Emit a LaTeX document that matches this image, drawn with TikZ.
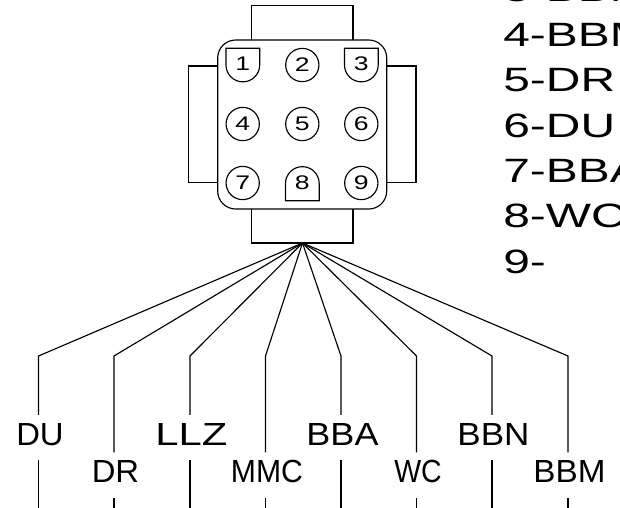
\documentclass[tikz,border=0pt]{standalone}
\usepackage{fontspec}
\setmainfont{Liberation Sans}
\usepackage{graphicx}
\tikzset{
    wire/.style={black, line width=0.65pt},
    pincircle/.style={circle, draw, line width=0.65pt, minimum size=33.4*0.5669pt, inner sep=0pt, font=\fontsize{11.2}{12}\selectfont},
    pintext/.style={inner sep=0pt, font=\fontsize{11.2}{12}\selectfont},
    toplabel/.style={anchor=base, inner sep=0pt, text height=30*0.5669pt, text depth=15*0.5669pt, font=\fontsize{18.2}{20}\selectfont},
    sidetext/.style={anchor=base west, inner sep=0pt, font=\fontsize{19.2}{22}\selectfont}
}
\newcommand{\pinnum}[1]{\scalebox{1.35}[1]{#1}}
\newcommand{\fitlabel}[2]{\hspace{1.7pt}\resizebox{#1}{\height}{#2}}
\newcommand{\sideline}[1]{\scalebox{1.42}[1]{#1}}

\begin{document}
\begin{tikzpicture}[x=0.02cm, y=-0.02cm]
    \useasboundingbox (0,0) rectangle (620,508);
    \clip (0,0) rectangle (620,508);

    % Connector tabs
    \draw[wire] (251.3,40) -- (251.3,5.5) -- (353,5.5) -- (353,40);
    \draw[wire] (217.7,66) -- (188.3,66) -- (188.3,182.7) -- (217.7,182.7);
    \draw[wire] (386.7,66) -- (416,66) -- (416,182.7) -- (386.7,182.7);
    \draw[wire] (251.3,209) -- (251.3,243) -- (353,243) -- (353,209);

    % Connector body
    \draw[wire, rounded corners=18*0.5669pt] (217.7,40) rectangle (386.7,209);

    % Round pins
    \foreach \px/\py/\pinname in {302.3/65/2, 242.7/124/4, 302.3/124/5, 361.3/124/6, 242.7/183/7, 361.3/183/9} {
        \node[pincircle] (pin\pinname) at (\px,\py) {\pinnum{\pinname}};
    }

    % Keyed pins
    \draw[wire] (226,48.3) -- (259.7,48.3) -- (259.7,65) arc[start angle=0, end angle=180, radius=16.85] -- cycle;
    \node[pintext] (pin1) at (242.7,64) {\pinnum{1}};
    \draw[wire] (344.5,48.3) -- (378.2,48.3) -- (378.2,65) arc[start angle=0, end angle=180, radius=16.85] -- cycle;
    \node[pintext] (pin3) at (361.3,64) {\pinnum{3}};
    \draw[wire] (285.5,200.7) -- (319.2,200.7) -- (319.2,183.5) arc[start angle=0, end angle=-180, radius=16.85] -- cycle;
    \node[pintext] (pin8) at (302.3,183) {\pinnum{8}};

    % Wires and their labels
    \coordinate (hub) at (302.5,243);
    \foreach \wx/\wy/\wname/\wwidth in {38.5/445/DU/27pt, 114/482.5/DR/27pt, 190/445/LLZ/41pt, 265.5/482.5/MMC/41pt,
        341/445/BBA/41pt, 416.5/482.5/WC/27pt, 492/445/BBN/41pt, 568/482.5/BBM/41pt} {
        \node[toplabel] (\wname) at (\wx,\wy) {\fitlabel{\wwidth}{\wname}};
        \coordinate (bend\wname) at (\wx,356);
        \coordinate (end\wname) at (\wx,508);
        \draw[wire] (hub) -- (bend\wname) -- (\wname.north);
        \draw[wire] (\wname.south) -- (end\wname);
    }

    % Pin list
    \foreach \ly/\ltext/\lname in {1.5/3-BBN/a, 46.5/4-BBM/b, 91.5/5-DR/c, 137/6-DU/d, 182.5/7-BBA/e, 227.5/8-WC/f, 273/9-/g} {
        \node[sidetext] (side\lname) at (503,\ly) {\sideline{\ltext}};
    }
\end{tikzpicture}
\end{document}
